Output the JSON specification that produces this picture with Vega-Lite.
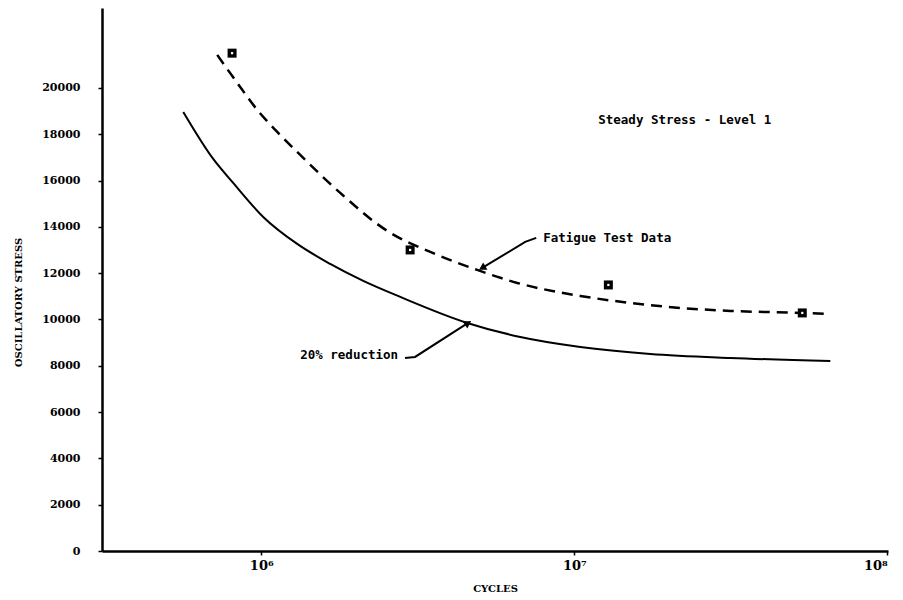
{
  "$schema": "https://vega.github.io/schema/vega-lite/v6.json",
  "width": 786,
  "height": 543,
  "autosize": "none",
  "padding": {"left": 102, "top": 8, "right": 15, "bottom": 49},
  "background": "white",
  "config": {
    "view": {"stroke": null},
    "font": "DejaVu Sans Mono"
  },
  "datasets": {
    "curves": [
      {"series": "reduced", "cycles": 563600, "stress": 18963},
      {"series": "reduced", "cycles": 702500, "stress": 16933},
      {"series": "reduced", "cycles": 813600, "stress": 15896},
      {"series": "reduced", "cycles": 1014800, "stress": 14428},
      {"series": "reduced", "cycles": 1303000, "stress": 13261},
      {"series": "reduced", "cycles": 1661000, "stress": 12397},
      {"series": "reduced", "cycles": 2118000, "stress": 11663},
      {"series": "reduced", "cycles": 2781000, "stress": 10972},
      {"series": "reduced", "cycles": 4551000, "stress": 9849},
      {"series": "reduced", "cycles": 6722000, "stress": 9244},
      {"series": "reduced", "cycles": 10452000, "stress": 8812},
      {"series": "reduced", "cycles": 17490000, "stress": 8510},
      {"series": "reduced", "cycles": 31510000, "stress": 8337},
      {"series": "reduced", "cycles": 65760000, "stress": 8207},
      {"series": "fatigue", "cycles": 723500, "stress": 21425},
      {"series": "fatigue", "cycles": 838000, "stress": 20216},
      {"series": "fatigue", "cycles": 971000, "stress": 19050},
      {"series": "fatigue", "cycles": 1125000, "stress": 18099},
      {"series": "fatigue", "cycles": 1332000, "stress": 17106},
      {"series": "fatigue", "cycles": 1788000, "stress": 15464},
      {"series": "fatigue", "cycles": 2527000, "stress": 13823},
      {"series": "fatigue", "cycles": 3467000, "stress": 12916},
      {"series": "fatigue", "cycles": 4898000, "stress": 12138},
      {"series": "fatigue", "cycles": 6576000, "stress": 11577},
      {"series": "fatigue", "cycles": 10452000, "stress": 11015},
      {"series": "fatigue", "cycles": 15100000, "stress": 10713},
      {"series": "fatigue", "cycles": 21820000, "stress": 10497},
      {"series": "fatigue", "cycles": 31510000, "stress": 10367},
      {"series": "fatigue", "cycles": 53510000, "stress": 10281},
      {"series": "fatigue", "cycles": 63390000, "stress": 10238}
    ],
    "tests": [
      {"cycles": 807000, "stress": 21500},
      {"cycles": 2990000, "stress": 13002},
      {"cycles": 12850000, "stress": 11490},
      {"cycles": 53500000, "stress": 10281}
    ],
    "arrows": [
      {"arrow": "fatigue", "order": 1, "cycles": 7560000, "stress": 13521},
      {"arrow": "fatigue", "order": 2, "cycles": 6970000, "stress": 13348},
      {"arrow": "fatigue", "order": 3, "cycles": 5080000, "stress": 12225},
      {"arrow": "reduced", "order": 1, "cycles": 2880000, "stress": 8337},
      {"arrow": "reduced", "order": 2, "cycles": 3100000, "stress": 8380},
      {"arrow": "reduced", "order": 3, "cycles": 4580000, "stress": 9849}
    ],
    "labels": [
      {"label": "Steady Stress - Level 1", "cycles": 11930000, "stress": 18618},
      {"label": "Fatigue Test Data", "cycles": 7960000, "stress": 13521},
      {"label": "20% reduction", "cycles": 1332000, "stress": 8467}
    ]
  },
  "encoding": {
    "x": {
      "field": "cycles", "type": "quantitative",
      "scale": {"type": "log", "domain": [310000, 100500000], "nice": false},
      "axis": {
        "title": "CYCLES",
        "values": [1000000, 10000000, 100000000],
        "labelExpr": "datum.value == 1000000 ? '10⁶' : datum.value == 10000000 ? '10⁷' : '10⁸'",
        "domainColor": "black", "domainWidth": 2.5,
        "tickColor": "black", "tickSize": 4, "tickWidth": 1.5,
        "labelFont": "DejaVu Serif", "labelFontWeight": "bold", "labelFontSize": 13, "labelColor": "black",
        "labelPadding": 4,
        "titleFont": "DejaVu Serif", "titleFontWeight": "bold", "titleFontSize": 10, "titleColor": "black",
        "titlePadding": 11,
        "grid": false
      }
    },
    "y": {
      "field": "stress", "type": "quantitative",
      "scale": {"domain": [0, 23450], "nice": false},
      "axis": {
        "title": "OSCILLATORY STRESS",
        "values": [0, 2000, 4000, 6000, 8000, 10000, 12000, 14000, 16000, 18000, 20000],
        "format": "d",
        "domainColor": "black", "domainWidth": 2.5,
        "tickColor": "black", "tickSize": 4, "tickWidth": 1.5,
        "labelFont": "DejaVu Serif", "labelFontWeight": "bold", "labelFontSize": 11, "labelColor": "black",
        "labelPadding": 18,
        "titleFont": "DejaVu Serif", "titleFontWeight": "bold", "titleFontSize": 10, "titleColor": "black",
        "titleX": -84, "titleY": 294, "titleAlign": "center", "titleBaseline": "middle",
        "grid": false
      }
    }
  },
  "layer": [
    {
      "data": {"name": "curves"},
      "transform": [{"filter": "datum.series == 'reduced'"}],
      "mark": {"type": "line", "interpolate": "monotone", "color": "black", "strokeWidth": 2}
    },
    {
      "data": {"name": "curves"},
      "transform": [{"filter": "datum.series == 'fatigue'"}],
      "mark": {"type": "line", "interpolate": "monotone", "color": "black", "strokeWidth": 2.5, "strokeDash": [11, 7]}
    },
    {
      "data": {"name": "tests"},
      "mark": {"type": "point", "shape": "square", "filled": true, "color": "black", "opacity": 1, "size": 81}
    },
    {
      "data": {"name": "tests"},
      "mark": {"type": "point", "shape": "square", "filled": true, "color": "white", "opacity": 1, "size": 5}
    },
    {
      "data": {"name": "arrows"},
      "mark": {"type": "line", "color": "black", "strokeWidth": 2},
      "encoding": {"detail": {"field": "arrow"}, "order": {"field": "order"}}
    },
    {
      "data": {"name": "arrows"},
      "transform": [{"filter": "datum.arrow == 'fatigue' && datum.order == 3"}],
      "mark": {"type": "point", "shape": "triangle-up", "filled": true, "color": "black", "opacity": 1, "size": 70, "angle": 239}
    },
    {
      "data": {"name": "arrows"},
      "transform": [{"filter": "datum.arrow == 'reduced' && datum.order == 3"}],
      "mark": {"type": "point", "shape": "triangle-up", "filled": true, "color": "black", "opacity": 1, "size": 70, "angle": 57}
    },
    {
      "data": {"name": "labels"},
      "mark": {"type": "text", "align": "left", "baseline": "middle", "font": "DejaVu Sans Mono", "fontWeight": "bold", "fontSize": 12.5, "color": "black"},
      "encoding": {"text": {"field": "label"}}
    }
  ]
}
